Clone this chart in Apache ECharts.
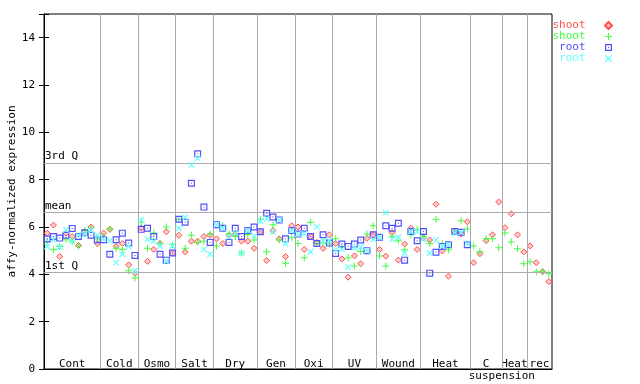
<!DOCTYPE html>
<html>
<head>
<meta charset="utf-8">
<script src="https://cdn.jsdelivr.net/npm/echarts@6/dist/echarts.min.js"></script>
<style>html,body{margin:0;padding:0;background:#fff;}#c{width:640px;height:384px;}</style>
</head>
<body>
<div id="c"></div>
<script>
// Condition groups: names and number of samples (columns) in each group
var catNames = ['Cont','Cold','Osmo','Salt','Dry','Gen','Oxi','UV','Wound','Heat','C','Heat','rec'];
var catSizes = [9,6,6,6,7,6,6,7,7,8,5,4,4];
var subLabel = 'suspension';

// Reference lines (3rd quartile, mean, 1st quartile)
var refNames = ['3rd Q','mean','1st Q'];
var refValues = [8.70, 6.61, 4.09];

// Series values per sample column
var shootRed = [5.74,6.08,4.75,5.74,5.60,5.22,5.80,6.00,5.30,
  5.74,5.90,5.18,5.30,4.40,4.05,
  5.95,4.55,5.05,5.30,5.80,4.90,
  5.65,4.95,5.40,5.40,5.60,5.65,
  5.50,5.30,5.65,5.70,5.40,5.40,5.10,
  5.80,4.58,5.85,5.50,4.75,6.05,
  6.00,5.05,5.60,5.35,5.10,5.67,
  5.30,4.65,3.88,4.78,4.45,5.52,5.67,
  5.05,4.77,5.76,4.60,5.28,5.95,5.05,
  5.55,5.45,6.96,4.99,3.92,5.80,5.70,6.22,
  4.49,4.87,5.42,5.67,7.06,
  5.97,6.56,5.67,4.95,
  5.20,4.49,4.11,3.69];
var shootGreen = [5.39,5.04,5.18,5.46,5.40,5.20,5.85,5.95,5.50,
  5.60,5.92,5.10,5.05,4.15,3.84,
  6.20,5.10,5.75,5.30,6.00,5.25,
  6.33,5.10,5.65,5.35,5.40,5.70,
  5.20,6.05,5.72,5.60,4.90,5.68,5.45,
  6.33,4.95,6.10,5.45,4.47,5.55,
  5.30,4.70,6.20,5.30,5.35,5.28,
  5.50,5.15,4.70,4.35,4.97,5.70,6.05,
  4.77,4.35,5.60,5.42,5.04,5.67,5.90,
  5.60,5.30,6.33,5.30,5.04,5.80,6.26,5.92,
  5.20,4.95,5.50,5.50,5.12,
  5.75,5.37,5.08,4.45,
  4.53,4.11,4.11,4.02];
var rootBlue = [5.49,5.60,5.53,5.65,5.94,5.60,5.76,5.65,5.46,
  5.46,4.85,5.46,5.74,5.32,4.80,
  5.90,5.95,5.60,4.85,4.60,4.90,
  6.33,6.20,7.85,9.09,6.84,5.35,
  6.10,5.95,5.35,5.95,5.60,5.85,6.00,
  5.80,6.58,6.42,6.30,5.50,5.85,
  5.70,5.95,5.60,5.30,5.67,5.32,
  4.88,5.28,5.18,5.28,5.45,5.00,5.67,
  5.57,6.05,5.95,6.16,4.60,5.81,5.42,
  5.81,4.05,4.93,5.18,5.25,5.81,5.78,5.25,
  null,null,null,null,null,
  null,null,null,null,
  null,null,null,null];
var rootCyan = [5.18,5.46,5.15,5.88,5.40,5.65,5.70,5.85,5.65,
  5.50,5.43,4.50,4.85,5.18,4.15,
  6.30,5.48,5.40,5.20,4.55,5.20,
  5.95,6.40,8.62,8.90,5.05,4.85,
  6.10,5.95,5.60,5.75,4.90,5.85,5.62,
  6.25,6.35,5.80,6.30,5.30,5.85,
  5.70,5.72,4.95,6.00,5.40,5.45,
  5.04,5.06,4.30,5.12,5.15,5.00,5.48,
  5.57,6.60,5.48,5.57,4.90,5.81,5.80,
  5.48,4.90,5.45,5.18,5.25,5.75,5.78,5.30,
  null,null,null,null,null,
  null,null,null,null,
  null,null,null,null];

var colRed = '#ff5050', colGreen = '#40ff40', colBlue = '#5050ff', colCyan = '#66ffff';
var font = 'DejaVu Sans Mono';

// derived: group boundaries and midpoints
var bounds = [0];
catSizes.forEach(function (n, k) { bounds.push(bounds[k] + n); });
var total = bounds[bounds.length - 1];
var mids = catSizes.map(function (n, k) { return bounds[k] + n / 2; });
var innerBounds = bounds.slice(1, bounds.length - 1);

function toPts(arr) {
  var out = [];
  arr.forEach(function (v, i) { if (v != null) out.push([i + 0.5, v]); });
  return out;
}

var symDiamond = 'path://M3.5,0 L7,3.5 L3.5,7 L0,3.5 Z';
var symPlus = 'path://M3,0 H4 V3 H7 V4 H4 V7 H3 V4 H0 V3 H3 Z';
var symSquare = 'path://M0,0 L7,0 L7,7 L0,7 Z M1.2,1.2 L1.2,5.8 L5.8,5.8 L5.8,1.2 Z M3,3 L4,3 L4,4 L3,4 Z';
var symCross = 'path://M0,0 L1,0 L3.5,2.5 L6,0 L7,0 L7,1 L4.5,3.5 L7,6 L7,7 L6,7 L3.5,4.5 L1,7 L0,7 L0,6 L2.5,3.5 L0,1 Z';

var chart = echarts.init(document.getElementById('c'), null, {renderer: 'canvas'});
chart.setOption({
  animation: false,
  backgroundColor: '#fff',
  grid: {left: 44, right: 88, top: 14, bottom: 15, show: true, borderColor: '#000', borderWidth: 1,
    backgroundColor: 'transparent', containLabel: false, outerBoundsMode: 'none'},
  legend: {
    orient: 'vertical', align: 'right', right: 27, top: 20, padding: 0,
    itemWidth: 36, itemHeight: 7, itemGap: 0,
    textStyle: {fontFamily: font, fontSize: 11, lineHeight: 11},
    data: [
      {name: 'shoot', textStyle: {color: colRed}},
      {name: 'shoot\u200b', textStyle: {color: colGreen}},
      {name: 'root', textStyle: {color: colBlue}},
      {name: 'root\u200b', textStyle: {color: colCyan}}
    ]
  },
  xAxis: [{
    type: 'value', min: 0, max: total, position: 'bottom',
    axisLine: {lineStyle: {color: '#000', width: 1}},
    axisTick: {show: false}, splitLine: {show: false},
    axisLabel: {
      inside: true, margin: -1, color: '#000', fontFamily: font, fontSize: 11, lineHeight: 11,
      customValues: mids,
      formatter: function (v) {
        for (var k = 0; k < mids.length; k++) if (Math.abs(mids[k] - v) < 1e-6) return catNames[k];
        return '';
      }
    }
  }, {
    type: 'value', min: 0, max: total, position: 'bottom',
    axisLine: {show: false}, axisTick: {show: false}, splitLine: {show: false},
    axisLabel: {
      margin: 2, color: '#000', fontFamily: font, fontSize: 11,
      customValues: [bounds[10] + catSizes[10] * 0.5 + 2.5],
      formatter: function () { return subLabel; }
    }
  }],
  yAxis: [{
    type: 'value', min: 0, max: 15, interval: 2, position: 'left',
    name: 'affy-normalized expression', nameLocation: 'middle', nameGap: 26, nameRotate: 90,
    nameMoveOverlap: false,
    nameTextStyle: {fontFamily: font, fontSize: 11, color: '#000'},
    axisLine: {lineStyle: {color: '#000'}},
    axisTick: {inside: true, length: 5, lineStyle: {color: '#000'}},
    splitLine: {show: false},
    axisLabel: {margin: 9, color: '#000', fontFamily: font, fontSize: 11,
      formatter: function (v) { return v > 14 ? '' : String(v); }}
  }, {
    type: 'value', min: 0, max: 15, interval: 2, position: 'right',
    axisLine: {lineStyle: {color: '#000'}},
    axisTick: {inside: true, length: 5, lineStyle: {color: '#000'}},
    splitLine: {show: false}, axisLabel: {show: false}
  }],
  series: [{
    name: 'shoot', type: 'scatter', data: toPts(shootRed), z: 3,
    symbol: symDiamond, symbolSize: 6,
    itemStyle: {color: 'rgba(255,80,80,0.3)', borderColor: colRed, borderWidth: 1, opacity: 1},
    markLine: {
      silent: true, symbol: 'none',
      lineStyle: {color: '#aaa', width: 1, type: 'solid'},
      label: {show: false},
      data: innerBounds.map(function (b) { return {xAxis: b}; }).concat(
        refValues.map(function (v, k) {
          return {yAxis: v, label: {show: true, formatter: refNames[k], position: 'insideStartTop',
            distance: [1, 1], color: '#000', fontFamily: font, fontSize: 11}};
        }))
    }
  }, {
    name: 'shoot\u200b', type: 'scatter', data: toPts(shootGreen), z: 4,
    symbol: symPlus, symbolSize: 7,
    itemStyle: {color: colGreen, opacity: 1}
  }, {
    name: 'root', type: 'scatter', data: toPts(rootBlue), z: 5,
    symbol: symSquare, symbolSize: 7,
    itemStyle: {color: colBlue, opacity: 1}
  }, {
    name: 'root\u200b', type: 'scatter', data: toPts(rootCyan), z: 6,
    symbol: symCross, symbolSize: 6,
    itemStyle: {color: colCyan, opacity: 1}
  }]
});
</script>
</body>
</html>
